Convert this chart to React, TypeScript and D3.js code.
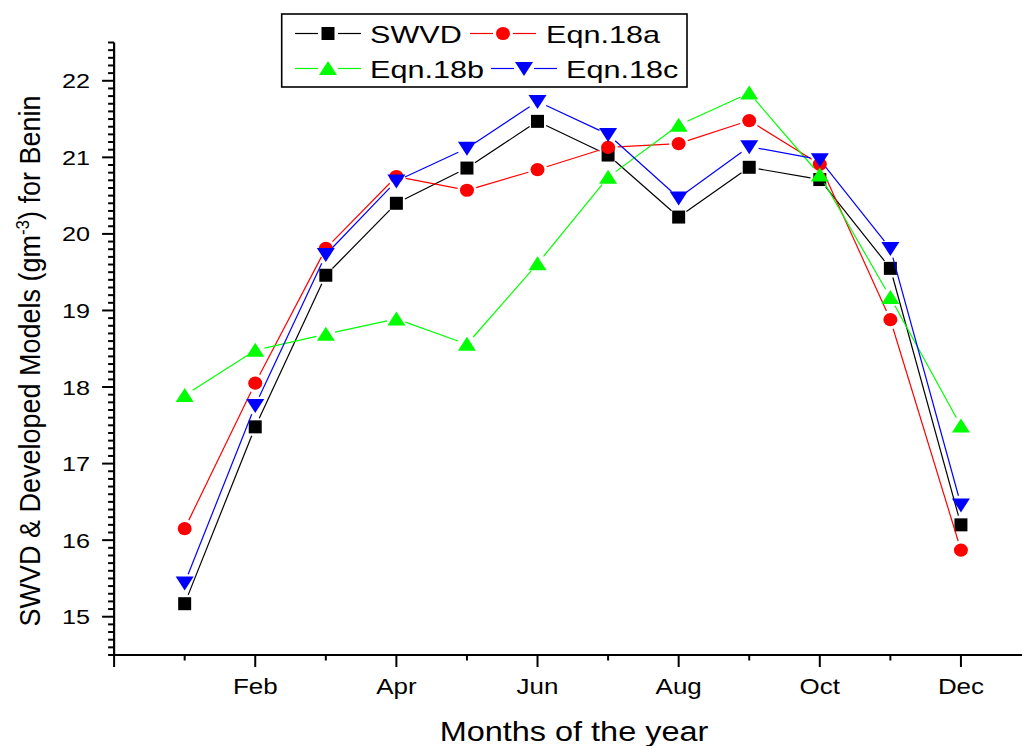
import React, { useEffect, useRef } from 'react';
import * as d3 from 'd3';

const months = ['Jan', 'Feb', 'Mar', 'Apr', 'May', 'Jun', 'Jul', 'Aug', 'Sep', 'Oct', 'Nov', 'Dec'];
const xTickLabels = ['', 'Feb', 'Apr', 'Jun', 'Aug', 'Oct', 'Dec'];
const yTickValues = [15, 16, 17, 18, 19, 20, 21, 22];

const swvd = [15.17, 17.48, 19.46, 20.40, 20.86, 21.47, 21.03, 20.22, 20.87, 20.71, 19.55, 16.20];
const eqn18a = [16.15, 18.05, 19.81, 20.75, 20.57, 20.84, 21.13, 21.18, 21.48, 20.91, 18.88, 15.87];
const eqn18b = [17.89, 18.48, 18.69, 18.89, 18.56, 19.61, 20.74, 21.42, 21.84, 20.77, 19.17, 17.49];
const eqn18c = [15.44, 17.76, 19.73, 20.69, 21.12, 21.73, 21.30, 20.47, 21.14, 20.97, 19.81, 16.46];

const seriesNames = ['SWVD', 'Eqn.18a', 'Eqn.18b', 'Eqn.18c'];
const seriesColors = ['#000000', '#ff0000', '#00ff00', '#0000ff'];
const seriesShapes = ['square', 'circle', 'up', 'down'];

const FONT = 'Arial, "Liberation Sans", Helvetica, sans-serif';

const markerPath = (shape: string) => {
	if (shape === 'square') return 'M-6.5,-6.5H6.5V6.5H-6.5Z';
	if (shape === 'up') return 'M0,-7.5L9,6.5L-9,6.5Z';
	if (shape === 'down') return 'M0,7.5L9,-6.5L-9,-6.5Z';
	return 'M-7,0A7,6.6 0 1,0 7,0A7,6.6 0 1,0 -7,0Z';
};

const App = () => {
	const chartRef = useRef<HTMLDivElement>(null);

	useEffect(() => {
		if (!chartRef.current) return;
		const width = 1022;
		const height = 746;

		d3.select(chartRef.current).selectAll('*').remove();

		const svg = d3
			.select(chartRef.current)
			.append('svg')
			.attr('width', width)
			.attr('height', height)
			.style('position', 'absolute')
			.style('left', '0px')
			.style('top', '0px')
			.style('background', '#fff');

		const x = d3.scaleLinear().domain([0, 13]).range([114.1, 114.1 + 13 * 70.57]);
		const y = d3.scaleLinear().domain([14.5, 22.5]).range([655, 42.5]);

		const stretchText = (
			g: any, tx: number, ty: number, txt: string, size: number, k: number, anchor: string
		) => g.append('text')
			.attr('transform', `translate(${tx},${ty}) scale(${k},1)`)
			.attr('text-anchor', anchor)
			.style('font-family', FONT)
			.style('font-size', `${size}px`)
			.attr('fill', '#000')
			.text(txt);

		// axes
		const axis = svg.append('g');
		const yMinor = d3.range(145, 226).map(v => v / 10);
		yMinor.forEach(v => {
			const major = Math.abs(v - Math.round(v)) < 1e-6;
			axis.append('line')
				.attr('x1', x(0) - (major ? 12 : 6)).attr('x2', x(0))
				.attr('y1', y(v)).attr('y2', y(v))
				.attr('stroke', '#000').attr('stroke-width', 2);
		});
		d3.range(0, 14).forEach(m => {
			const major = m % 2 === 0;
			axis.append('line')
				.attr('x1', x(m)).attr('x2', x(m))
				.attr('y1', y(14.5)).attr('y2', y(14.5) + (major ? 12 : 5.5))
				.attr('stroke', '#000').attr('stroke-width', 2);
		});
		axis.append('line')
			.attr('x1', x(0)).attr('x2', x(0))
			.attr('y1', y(22.5)).attr('y2', y(14.5) + 1)
			.attr('stroke', '#000').attr('stroke-width', 2.2);
		axis.append('line')
			.attr('x1', x(0) - 1).attr('x2', x(13))
			.attr('y1', y(14.5)).attr('y2', y(14.5))
			.attr('stroke', '#000').attr('stroke-width', 2.2);

		yTickValues.forEach(v => {
			stretchText(axis, 90, y(v) + 7.5, String(v), 21, 1.2, 'end');
		});
		xTickLabels.forEach((label, i) => {
			if (label) stretchText(axis, x(i * 2), 694, label, 22, 1.18, 'middle');
		});

		stretchText(svg, 574, 741, 'Months of the year', 27.5, 1.18, 'middle');

		const yTitle = svg.append('text')
			.attr('transform', `translate(40,361) rotate(-90) scale(1,1.12)`)
			.attr('text-anchor', 'middle')
			.style('font-family', FONT)
			.style('font-size', '27px')
			.attr('fill', '#000');
		yTitle.append('tspan').text('SWVD & Developed Models (gm');
		yTitle.append('tspan').attr('dy', -10).style('font-size', '17px').text('-3');
		yTitle.append('tspan').attr('dy', 10).text(') for Benin');

		// series
		const allSeries = [swvd, eqn18a, eqn18b, eqn18c];
		const gap = 9.5;
		allSeries.forEach((values, si) => {
			const g = svg.append('g');
			const pts = values.map((v, i) => [x(i + 1), y(v)]);
			for (let i = 0; i < pts.length - 1; i++) {
				const [x0, y0] = pts[i];
				const [x1, y1] = pts[i + 1];
				const len = Math.hypot(x1 - x0, y1 - y0);
				if (len <= gap * 2) continue;
				const ux = (x1 - x0) / len;
				const uy = (y1 - y0) / len;
				g.append('line')
					.attr('x1', x0 + ux * gap).attr('y1', y0 + uy * gap)
					.attr('x2', x1 - ux * gap).attr('y2', y1 - uy * gap)
					.attr('stroke', seriesColors[si])
					.attr('stroke-width', 1.2);
			}
			g.selectAll('path.mk')
				.data(values)
				.enter()
				.append('path')
				.attr('class', 'mk')
				.attr('d', markerPath(seriesShapes[si]))
				.attr('transform', (v, i) => `translate(${x(i + 1)},${y(v)})`)
				.attr('fill', seriesColors[si]);
		});

		// legend
		const legend = svg.append('g');
		legend.append('rect')
			.attr('x', 281.7).attr('y', 14)
			.attr('width', 405.3).attr('height', 73)
			.attr('fill', '#fff')
			.attr('stroke', '#000')
			.attr('stroke-width', 1.6);
		const legendPos = [
			{ lx: 295, cy: 33.5, tx: 370 },
			{ lx: 470, cy: 33.5, tx: 546 },
			{ lx: 295, cy: 68.5, tx: 370 },
			{ lx: 491, cy: 68.5, tx: 566 },
		];
		seriesNames.forEach((name, si) => {
			const p = legendPos[si];
			const mx = p.lx + 33;
			legend.append('line')
				.attr('x1', p.lx).attr('x2', mx - 10)
				.attr('y1', p.cy).attr('y2', p.cy)
				.attr('stroke', seriesColors[si]).attr('stroke-width', 1.2);
			legend.append('line')
				.attr('x1', mx + 10).attr('x2', p.lx + 66)
				.attr('y1', p.cy).attr('y2', p.cy)
				.attr('stroke', seriesColors[si]).attr('stroke-width', 1.2);
			legend.append('path')
				.attr('d', markerPath(seriesShapes[si]))
				.attr('transform', `translate(${mx},${p.cy})`)
				.attr('fill', seriesColors[si]);
			stretchText(legend, p.tx, p.cy + 9.5, name, 23, 1.33, 'start');
		});
	}, []);

	return <div ref={chartRef} data-months={months.length}></div>;
};

export default App;
